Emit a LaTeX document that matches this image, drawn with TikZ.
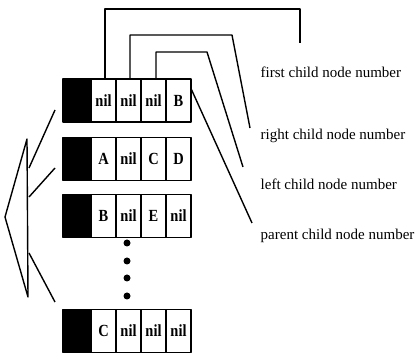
\documentclass[tikz,border=0pt]{standalone}
\usepackage{fontspec}
\usepackage{graphicx}
\setmainfont{Liberation Serif}
\newcommand{\celltext}[1]{\scalebox{0.85}[1]{\fontsize{17}{17}\selectfont\bfseries #1}}
\begin{document}
\begin{tikzpicture}[x=1pt,y=-1pt,
  line width=1.4pt, line join=round,
  blk/.style={draw, fill=black, minimum width=28pt, minimum height=43pt, inner sep=0pt, outer sep=0pt},
  cell/.style={draw, fill=white, minimum width=25pt, minimum height=43pt, inner sep=0pt, outer sep=0pt},
  lbl/.style={anchor=base west, inner sep=0pt, font=\fontsize{15}{15}\selectfont},
  dot/.style={circle, fill=black, minimum size=7pt, inner sep=0pt}]
\useasboundingbox (0,0) rectangle (416,353);
\newcommand{\myrecord}[6]{%
  \node[blk] (#1b) at (77,#2) {};
  \node[cell] (#1c1) at (103.5,#2) {\celltext{#3}};
  \node[cell] (#1c2) at (128.5,#2) {\celltext{#4}};
  \node[cell] (#1c3) at (153.5,#2) {\celltext{#5}};
  \node[cell] (#1c4) at (178.5,#2) {\celltext{#6}};
}
\myrecord{r1}{100.5}{nil}{nil}{nil}{B}
\myrecord{r2}{159}{A}{nil}{C}{D}
\myrecord{r3}{216}{B}{nil}{E}{nil}
\myrecord{r4}{331}{C}{nil}{nil}{nil}

% dots
\node[dot] (d1) at (127,243) {};
\node[dot] (d2) at (127,261) {};
\node[dot] (d3) at (127,278) {};
\node[dot] (d4) at (127,296) {};

% labels
\node[lbl] (lfirst) at (260,78) {first child node number};
\node[lbl] (lright) at (260,140) {right child node number};
\node[lbl] (lleft) at (260,190) {left child node number};
\node[lbl] (lparent) at (260,240) {parent child node number};

% connector ends
\coordinate (efirst) at (300,43);
\coordinate (eright) at (250,128);
\coordinate (eleft) at (243,167);
\coordinate (eparent) at (252,223);

\draw (r1c1.north) ++(1.5,0) |- (300,9) -- (efirst);
\draw (r1c2.north) ++(1.5,0) |- (232,35) -- (eright);
\draw (r1c3.north) ++(2.5,0) |- (207,52) -- (eleft);
\draw ([yshift=12pt]r1c4.east) -- (eparent);

% big arrow
\coordinate (atop) at (27,139);
\coordinate (atip) at (5,217);
\coordinate (abot) at (28,297);
\draw (atop) -- (atip) -- (abot) -- cycle;
\coordinate (s1) at (29,168);
\coordinate (s2) at (29,197);
\coordinate (s3) at (29,253);
\coordinate (t1) at (55,110);
\coordinate (t2) at (55,168);
\coordinate (t3) at (55,302);
\draw (s1) -- (t1);
\draw (s2) -- (t2);
\draw (s3) -- (t3);
\end{tikzpicture}
\end{document}
